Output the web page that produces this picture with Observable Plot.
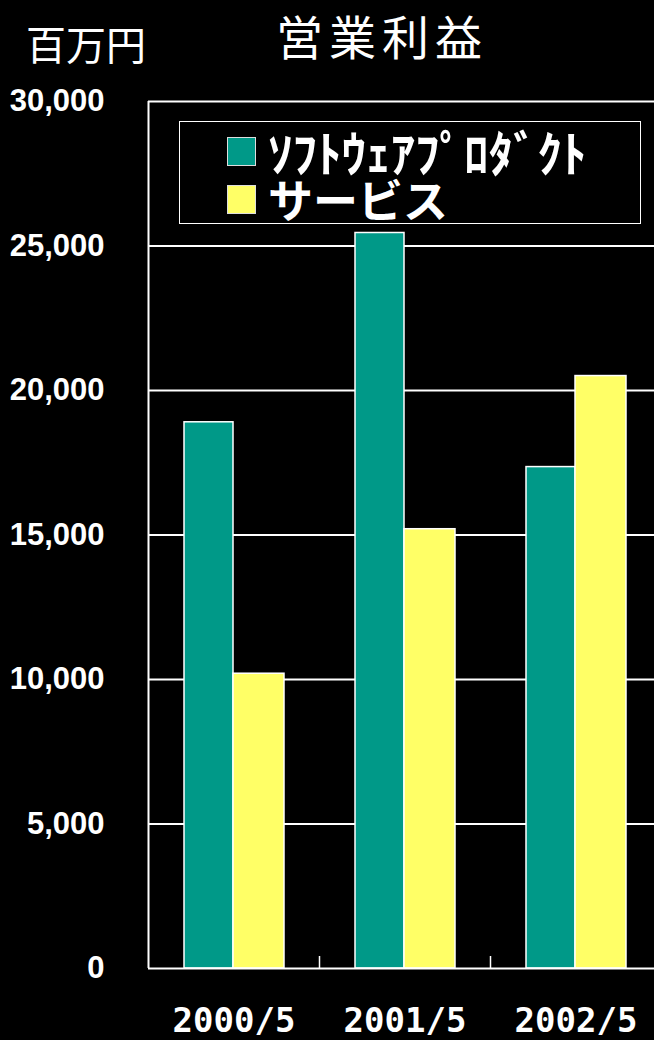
<!DOCTYPE html>
<html>
<head>
<meta charset="utf-8">
<script src="https://cdn.jsdelivr.net/npm/d3@7"></script>
<script src="https://cdn.jsdelivr.net/npm/@observablehq/plot@0.6"></script>
<style>
  html, body { margin: 0; padding: 0; background: #000; overflow: hidden; }
  #wrap { position: relative; width: 654px; height: 1040px; overflow: hidden; background: #000; }
  #chart { position: absolute; left: 0; top: 0; }
  .title { position: absolute; color: #fff; font-family: "Noto Sans CJK JP", sans-serif; white-space: nowrap; }
  #legend { position: absolute; left: 179px; top: 121px; width: 460px; height: 101px; border: 1.5px solid #fff; background: #000; }
  .row { position: absolute; left: 47px; display: flex; align-items: center; color: #fff;
         font-family: "Noto Sans CJK JP", sans-serif; font-weight: bold; white-space: nowrap; }
  .row .lab { display: block; height: 44px; overflow: visible; }
  .sw { width: 27px; height: 27px; border: 1px solid #ddd; margin-right: 12px; flex: none; }
</style>
</head>
<body>
<div id="wrap">
  <div id="chart"></div>
  <div class="title" style="left:26px; top:18px; font-size:40px; line-height:50px;">百万円</div>
  <div class="title" style="left:276px; top:5px; font-size:47px; line-height:60px; letter-spacing:6px;">営業利益</div>
  <div id="legend"></div>
</div>
<script>
const years = ["2000/5", "2001/5", "2002/5"];
const software = [18900, 25450, 17350];
const services = [10200, 15200, 20500];
const seriesNames = ["ｿﾌﾄｳｪｱﾌﾟﾛﾀﾞｸﾄ", "サービス"];
const seriesColors = ["#009988", "#FFFF66"];
const yTicks = [0, 5000, 10000, 15000, 20000, 25000, 30000];

const data = years.map((y, i) => ({year: y, software: software[i], services: services[i]}));

const chart = Plot.plot({
  width: 654,
  height: 1040,
  marginTop: 101,
  marginBottom: 72,
  marginLeft: 148,
  marginRight: 0,
  style: {background: "#000", color: "#fff", overflow: "visible"},
  x: {type: "band", domain: years, range: [148, 661], padding: 0, label: null},
  y: {domain: [0, 30000], label: null},
  marks: [
    Plot.ruleY(yTicks.filter(d => d > 0), {stroke: "#fff", strokeWidth: 2}),
    Plot.barY(data, {x: "year", y: "software", fill: seriesColors[0], stroke: "#fff", strokeWidth: 1.5, insetLeft: 36, insetRight: 86}),
    Plot.barY(data, {x: "year", y: "services", fill: seriesColors[1], stroke: "#fff", strokeWidth: 1.5, insetLeft: 85, insetRight: 35}),
    Plot.ruleY([0], {stroke: "#fff", strokeWidth: 2}),
    Plot.ruleX([years[0]], {x: d => d, y1: 0, y2: 30000, dx: -85.5, stroke: "#fff", strokeWidth: 2}),
    Plot.ruleX(years.slice(1), {x: d => d, y1: 0, y2: 0, insetTop: -12, dx: -85.5, stroke: "#fff", strokeWidth: 1.5}),
    Plot.axisY({ticks: yTicks, tickSize: 0, tickPadding: 44, tickFormat: d3.format(","), label: null,
      fontSize: 31, fontWeight: "bold", fontFamily: "'Liberation Sans', sans-serif", fill: "#fff"}),
    Plot.axisX({tickSize: 0, tickPadding: 39, fontSize: 34, fontWeight: "bold", label: null,
      fontFamily: "'DejaVu Sans Mono', monospace", fill: "#fff"})
  ]
});
document.getElementById("chart").appendChild(chart);

const legend = document.getElementById("legend");
seriesNames.forEach((name, i) => {
  const row = document.createElement("div");
  row.className = "row";
  row.style.top = (i === 0 ? 7 : 55) + "px";
  row.style.height = "44px";
  row.style.fontSize = (i === 0 ? 49 : 45) + "px";
  row.style.lineHeight = "44px";
  const sw = document.createElement("div");
  sw.className = "sw";
  sw.style.background = seriesColors[i];
  const label = document.createElement("span");
  label.className = "lab";
  label.textContent = name;
  row.appendChild(sw);
  row.appendChild(label);
  legend.appendChild(row);
});
</script>
</body>
</html>
